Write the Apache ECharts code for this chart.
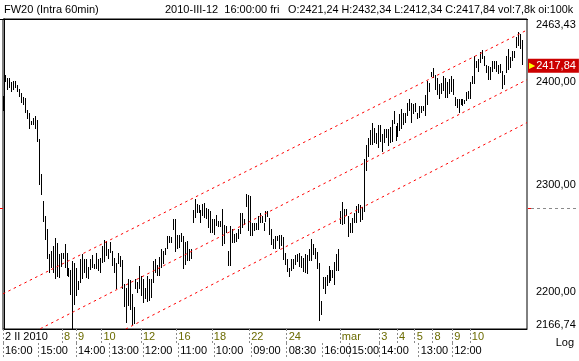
<!DOCTYPE html>
<html><head><meta charset="utf-8">
<script src="https://cdn.jsdelivr.net/npm/echarts@6/dist/echarts.min.js"></script>
<style>html,body{margin:0;padding:0;background:#fff}#c{width:579px;height:361px}</style>
</head><body><div id="c"></div>
<script>
// ---- data ----
const highs = [
2386.3,2406.8,2403.5,2403.5,2400.2,2401.2,2401.2,2396.8,2392.9,2388.9,
2385.6,2384.3,2372.5,2369.9,2361.7,2365.0,2366.6,2362.3,2343.8,2310.1,
2284.7,2270.5,2258.7,2234.8,2237.9,2242.5,2250.3,2245.0,2234.8,2236.3,
2235.7,2244.1,2236.3,2222.5,2220.4,2228.7,2227.1,2222.5,2210.3,2230.2,
2234.8,2230.2,2230.8,2223.4,2230.2,2233.9,2225.6,2235.7,2230.8,2231.7,
2242.5,2248.1,2247.2,2240.0,2246.3,2237.9,2231.7,2227.1,2236.3,2233.3,
2229.6,2207.2,2204.2,2211.8,2211.2,2198.1,2187.0,2212.4,2209.4,2223.7,
2214.9,2212.4,2204.2,2214.9,2211.8,2211.8,2228.7,2230.2,2224.7,2232.6,
2240.0,2237.9,2241.0,2251.8,2251.8,2251.2,2267.4,2268.0,2252.5,2252.5,
2254.4,2251.8,2246.3,2247.2,2240.0,2239.4,2276.2,2287.0,2281.6,2280.6,
2276.2,2281.6,2282.5,2278.4,2277.5,2275.2,2267.4,2267.4,2271.1,2265.8,
2265.8,2277.5,2261.8,2261.2,2237.9,2261.2,2258.1,2253.4,2255.0,2258.7,
2273.0,2273.6,2268.0,2291.0,2290.1,2289.5,2264.3,2263.7,2263.7,2270.5,
2273.6,2270.5,2264.3,2275.2,2275.2,2269.0,2258.1,2248.7,2251.8,2251.8,
2252.5,2252.5,2251.2,2236.3,2230.8,2222.5,2230.8,2230.2,2233.9,2234.8,
2236.3,2233.3,2231.7,2234.8,2233.9,2239.4,2248.7,2244.1,2241.0,2237.0,
2226.5,2192.1,2214.3,2214.3,2215.5,2224.1,2220.4,2220.4,2227.7,2234.8,
2240.0,2275.2,2283.7,2276.8,2277.5,2270.5,2264.3,2269.0,2273.6,2279.7,
2281.6,2280.6,2279.4,2324.5,2338.0,2345.4,2353.0,2359.4,2355.2,2350.3,
2357.5,2357.5,2348.7,2353.6,2353.6,2353.6,2356.2,2362.7,2371.6,2356.8,
2360.1,2368.3,2373.2,2369.3,2369.3,2379.7,2383.0,2379.1,2378.1,2379.7,
2369.9,2375.8,2375.8,2375.8,2386.9,2401.2,2398.9,2409.5,2413.5,2406.8,
2403.5,2397.9,2398.9,2405.5,2403.5,2400.2,2402.8,2405.5,2402.8,2385.6,
2383.6,2383.0,2383.6,2383.0,2382.3,2390.2,2391.2,2400.2,2405.5,2425.7,
2421.1,2422.8,2429.6,2432.3,2426.1,2416.8,2416.1,2414.5,2421.1,2420.8,
2421.1,2416.8,2417.8,2411.1,2406.8,2426.1,2432.9,2424.5,2431.2,2431.2,
2444.8,2450.5,2448.5,2442.3
];
const lows = [
2371.6,2400.5,2392.2,2394.5,2390.2,2392.2,2393.6,2390.2,2385.6,2379.1,
2377.1,2369.4,2364.0,2353.6,2358.1,2357.5,2353.6,2341.2,2299.9,2290.1,
2264.9,2247.8,2230.2,2217.9,2222.5,2217.9,2211.8,2214.3,2213.3,2223.4,
2230.2,2222.5,2214.9,2214.3,2197.2,2166.7,2188.1,2196.6,2202.1,2208.8,
2211.8,2217.9,2213.3,2212.4,2220.4,2222.5,2221.6,2221.6,2219.5,2217.9,
2227.1,2227.7,2233.3,2230.8,2235.7,2224.1,2217.9,2202.7,2225.6,2223.4,
2203.3,2187.0,2171.9,2187.6,2183.9,2170.2,2171.0,2203.3,2199.1,2202.7,
2196.6,2189.9,2193.6,2191.1,2192.1,2195.1,2208.8,2217.9,2214.9,2214.9,
2222.5,2225.6,2233.9,2239.4,2245.0,2245.6,2257.5,2236.9,2240.0,2241.0,
2246.3,2221.6,2224.7,2228.7,2228.7,2230.2,2264.3,2269.0,2273.6,2273.0,
2264.3,2270.5,2269.0,2267.4,2259.6,2255.0,2254.4,2252.5,2261.2,2260.6,
2260.6,2242.5,2244.1,2254.4,2224.1,2224.1,2245.0,2245.6,2246.3,2248.7,
2253.4,2259.6,2261.8,2279.1,2256.5,2251.8,2251.8,2256.5,2257.5,2257.5,
2264.3,2264.3,2256.5,2264.9,2269.9,2252.5,2243.5,2239.4,2240.0,2247.2,
2239.4,2242.5,2229.6,2224.7,2218.6,2214.3,2219.5,2221.6,2224.7,2227.7,
2223.4,2222.5,2218.6,2217.9,2216.4,2228.7,2228.7,2233.9,2230.2,2221.6,
2174.0,2179.0,2203.3,2198.1,2205.7,2208.8,2210.3,2213.3,2206.3,2219.5,
2219.5,2262.7,2261.8,2262.7,2270.5,2251.2,2255.0,2255.0,2263.7,2264.3,
2273.0,2264.9,2266.8,2274.2,2313.3,2327.1,2338.0,2338.0,2340.6,2339.0,
2335.7,2341.2,2331.5,2339.9,2345.4,2337.4,2340.6,2341.2,2358.4,2342.2,
2346.4,2352.0,2353.6,2357.5,2360.1,2366.6,2371.6,2360.1,2368.3,2370.6,
2364.0,2365.0,2369.9,2371.6,2366.6,2377.1,2390.2,2404.5,2403.5,2392.2,
2386.9,2383.0,2387.9,2391.2,2384.6,2384.6,2387.9,2390.2,2386.9,2375.8,
2374.8,2369.9,2377.1,2376.5,2378.1,2381.3,2383.0,2383.0,2397.9,2398.5,
2413.5,2409.5,2418.9,2422.8,2415.5,2408.8,2402.1,2402.1,2410.1,2412.8,
2409.5,2407.8,2408.8,2392.9,2396.8,2408.8,2412.1,2413.5,2421.1,2423.5,
2433.6,2435.6,2432.9,2416.8
];
const dayLabelIdx = [0, 30, 37, 50, 70, 88, 106, 125, 144, 171, 191, 200, 209, 218, 228, 237];
const dayLabels = ['2 II 2010','8','9','10','12','16','18','22','24','mar','3','4','5','8','9','10'];
const timeLabelIdx = [0, 18, 37, 54, 71, 89, 107, 126, 144, 162, 176, 191, 211, 228];
const timeLabels = ['16:00','15:00','14:00','13:00','12:00','11:00','10:00','09:00','08:30','16:00','15:00','14:00','13:00','12:00'];
const yTickValues = [2200, 2300, 2400];
const yMin = 2166.74, yMax = 2463.43;
const lastPrice = 2417.84;
const markerPrice = 2277.8;
const channelIdx = [-0.5, 265.5];
const channelUpper = [2198.5, 2452.2];
const channelMiddle = [2149.9, 2402.3];
const channelLower = [2110.8, 2360.0];
const headerTitle = 'FW20 (Intra 60min)';
const headerDate = '2010-III-12  16:00:00 fri';
const headerQuote = 'O:2421,24 H:2432,34 L:2412,34 C:2417,84 vol:7,8k oi:100k';
const scaleNote = 'Log';

// ---- build ----
const FONT = 'Liberation Sans';
const NSLOT = highs.length + 2;
const fmtPrice = v => v.toFixed(2).replace('.', ',');
const barData = highs.map((h, i) => [i, Math.log(lows[i]), Math.log(h)]);
const lnMin = Math.log(yMin), lnMax = Math.log(yMax);

function findLabel(idxArr, txtArr, v) {
  for (let j = 0; j < idxArr.length; j++) if (Math.abs(idxArr[j] - 0.5 - v) < 0.01) return txtArr[j];
  return '';
}
function chan(vals, name) {
  return {
    type: 'line', name, xAxisIndex: 0, yAxisIndex: 0, clip: true, silent: true,
    symbol: 'none', animation: false,
    data: channelIdx.map((x, k) => [x, Math.log(vals[k])]),
    lineStyle: { color: '#ff0000', width: 1, type: [2.5, 3.5] }
  };
}
const upper = chan(channelUpper, 'upper');
upper.markLine = {
  silent: true, symbol: 'none', animation: false,
  lineStyle: { color: 'rgba(0,0,0,0)', width: 0 },
  label: {
    position: 'end', distance: 1, backgroundColor: '#cc0000', padding: [2, 3, 1, 1],
    color: '#fff', fontFamily: FONT, fontSize: 11,
    formatter: () => '{t|▶}{v|' + fmtPrice(lastPrice) + '}',
    rich: { t: { color: '#ffff00', fontSize: 8, fontFamily: 'DejaVu Sans', padding: [0, 1, 0, 0] },
            v: { color: '#fff', fontFamily: FONT, fontSize: 11 } }
  },
  data: [{ yAxis: Math.log(lastPrice) }]
};

const dayTicks = dayLabelIdx.map(i => i - 0.5);
const timeTicks = timeLabelIdx.map(i => i - 0.5);
const sepStyle = { color: '#8a8a8a', width: 1, type: [2, 2] };

const option = {
  backgroundColor: '#fff',
  animation: false,
  grid: { left: 3, top: 19, right: 52, bottom: 32, show: true, borderColor: '#000', borderWidth: 1 },
  xAxis: [
    { type: 'value', min: -0.5, max: NSLOT - 0.5, position: 'bottom',
      axisLine: { show: true, lineStyle: { color: '#000', width: 1 } },
      splitLine: { show: false },
      axisTick: { show: true, customValues: dayTicks, length: 15, lineStyle: sepStyle },
      axisLabel: { customValues: dayTicks, align: 'left', margin: 2, showMinLabel: true, showMaxLabel: true,
        fontFamily: FONT, fontSize: 11, padding: [0, 0, 0, 2],
        formatter: v => { const t = findLabel(dayLabelIdx, dayLabels, v); return t.indexOf('2010') >= 0 ? '{b|' + t + '}' : '{o|' + t + '}'; },
        rich: { b: { color: '#000', fontFamily: FONT, fontSize: 11 }, o: { color: '#6b6b00', fontFamily: FONT, fontSize: 11 } } } },
    { type: 'value', min: -0.5, max: NSLOT - 0.5, position: 'bottom', offset: 14,
      axisLine: { show: false }, splitLine: { show: false },
      axisTick: { show: true, customValues: timeTicks, length: 14, lineStyle: sepStyle },
      axisLabel: { customValues: timeTicks, align: 'left', margin: 2, showMinLabel: true, showMaxLabel: true,
        color: '#000', fontFamily: FONT, fontSize: 11, padding: [0, 0, 0, 2],
        formatter: v => findLabel(timeLabelIdx, timeLabels, v) } }
  ],
  yAxis: {
    type: 'value', position: 'right', min: lnMin, max: lnMax, scale: true,
    axisLine: { show: true, lineStyle: { color: '#000', width: 1 } },
    axisTick: { show: false }, splitLine: { show: false },
    axisLabel: {
      customValues: [lnMin].concat(yTickValues.map(v => Math.log(v))).concat([lnMax]),
      showMinLabel: true, showMaxLabel: true,
      margin: 9, color: '#000', fontFamily: FONT, fontSize: 11,
      formatter: v => {
        const p = Math.exp(v);
        if (Math.abs(v - lnMax) < 1e-9) return '{top|' + fmtPrice(yMax) + '}';
        if (Math.abs(v - lnMin) < 1e-9) return '{bot|' + fmtPrice(yMin) + '}';
        return fmtPrice(Math.round(p * 100) / 100);
      },
      rich: { top: { padding: [12, 0, 0, 0], fontFamily: FONT, fontSize: 11, color: '#000' },
              bot: { padding: [0, 0, 8, 0], fontFamily: FONT, fontSize: 11, color: '#000' } }
    }
  },
  series: [
    upper, chan(channelMiddle, 'middle'), chan(channelLower, 'lower'),
    { type: 'custom', name: 'FW20', xAxisIndex: 0, yAxisIndex: 0, clip: true, silent: true,
      data: barData, encode: { x: 0, y: [1, 2] },
      renderItem: (params, api) => {
        const i = api.value(0);
        const top = api.coord([i, api.value(2)]);
        const bot = api.coord([i, api.value(1)]);
        const x = Math.floor(top[0]);
        const y0 = Math.round(top[1]);
        const h = Math.max(1, Math.round(bot[1]) - y0);
        return { type: 'rect', shape: { x: x, y: y0, width: 1, height: h }, style: { fill: '#000' } };
      } }
  ]
};

const chart = echarts.init(document.getElementById('c'), null, { renderer: 'canvas' });
chart.setOption(option);

const my = Math.round(chart.convertToPixel({ yAxisIndex: 0 }, Math.log(markerPrice))) + 0.5;
const txt = (text, x, size) => ({ type: 'text', x: x, y: 10, silent: true,
  style: { text: text, fill: '#000', font: (size || 11) + 'px "' + FONT + '"', textVerticalAlign: 'middle' } });
chart.setOption({
  graphic: [
    txt(headerTitle, 4),
    txt(headerDate, 165),
    txt(headerQuote, 288, 10.8),
    { type: 'text', x: 574, y: 343, silent: true,
      style: { text: scaleNote, fill: '#000', font: '11px "' + FONT + '"', textAlign: 'right', textVerticalAlign: 'middle' } },
    { type: 'line', silent: true, shape: { x1: 0, y1: 19.5, x2: 528, y2: 19.5 }, style: { stroke: '#000', lineWidth: 1 } },
    { type: 'line', silent: true, shape: { x1: 0, y1: my, x2: 3, y2: my }, style: { stroke: '#ff0000', lineWidth: 1 } },
    { type: 'line', silent: true, shape: { x1: 528, y1: my, x2: 531, y2: my }, style: { stroke: '#ff0000', lineWidth: 1 } },
    { type: 'line', silent: true, shape: { x1: 531, y1: my, x2: 579, y2: my }, style: { stroke: '#8a8a8a', lineWidth: 1, lineDash: [3, 3] } }
  ]
});
</script>
</body></html>
